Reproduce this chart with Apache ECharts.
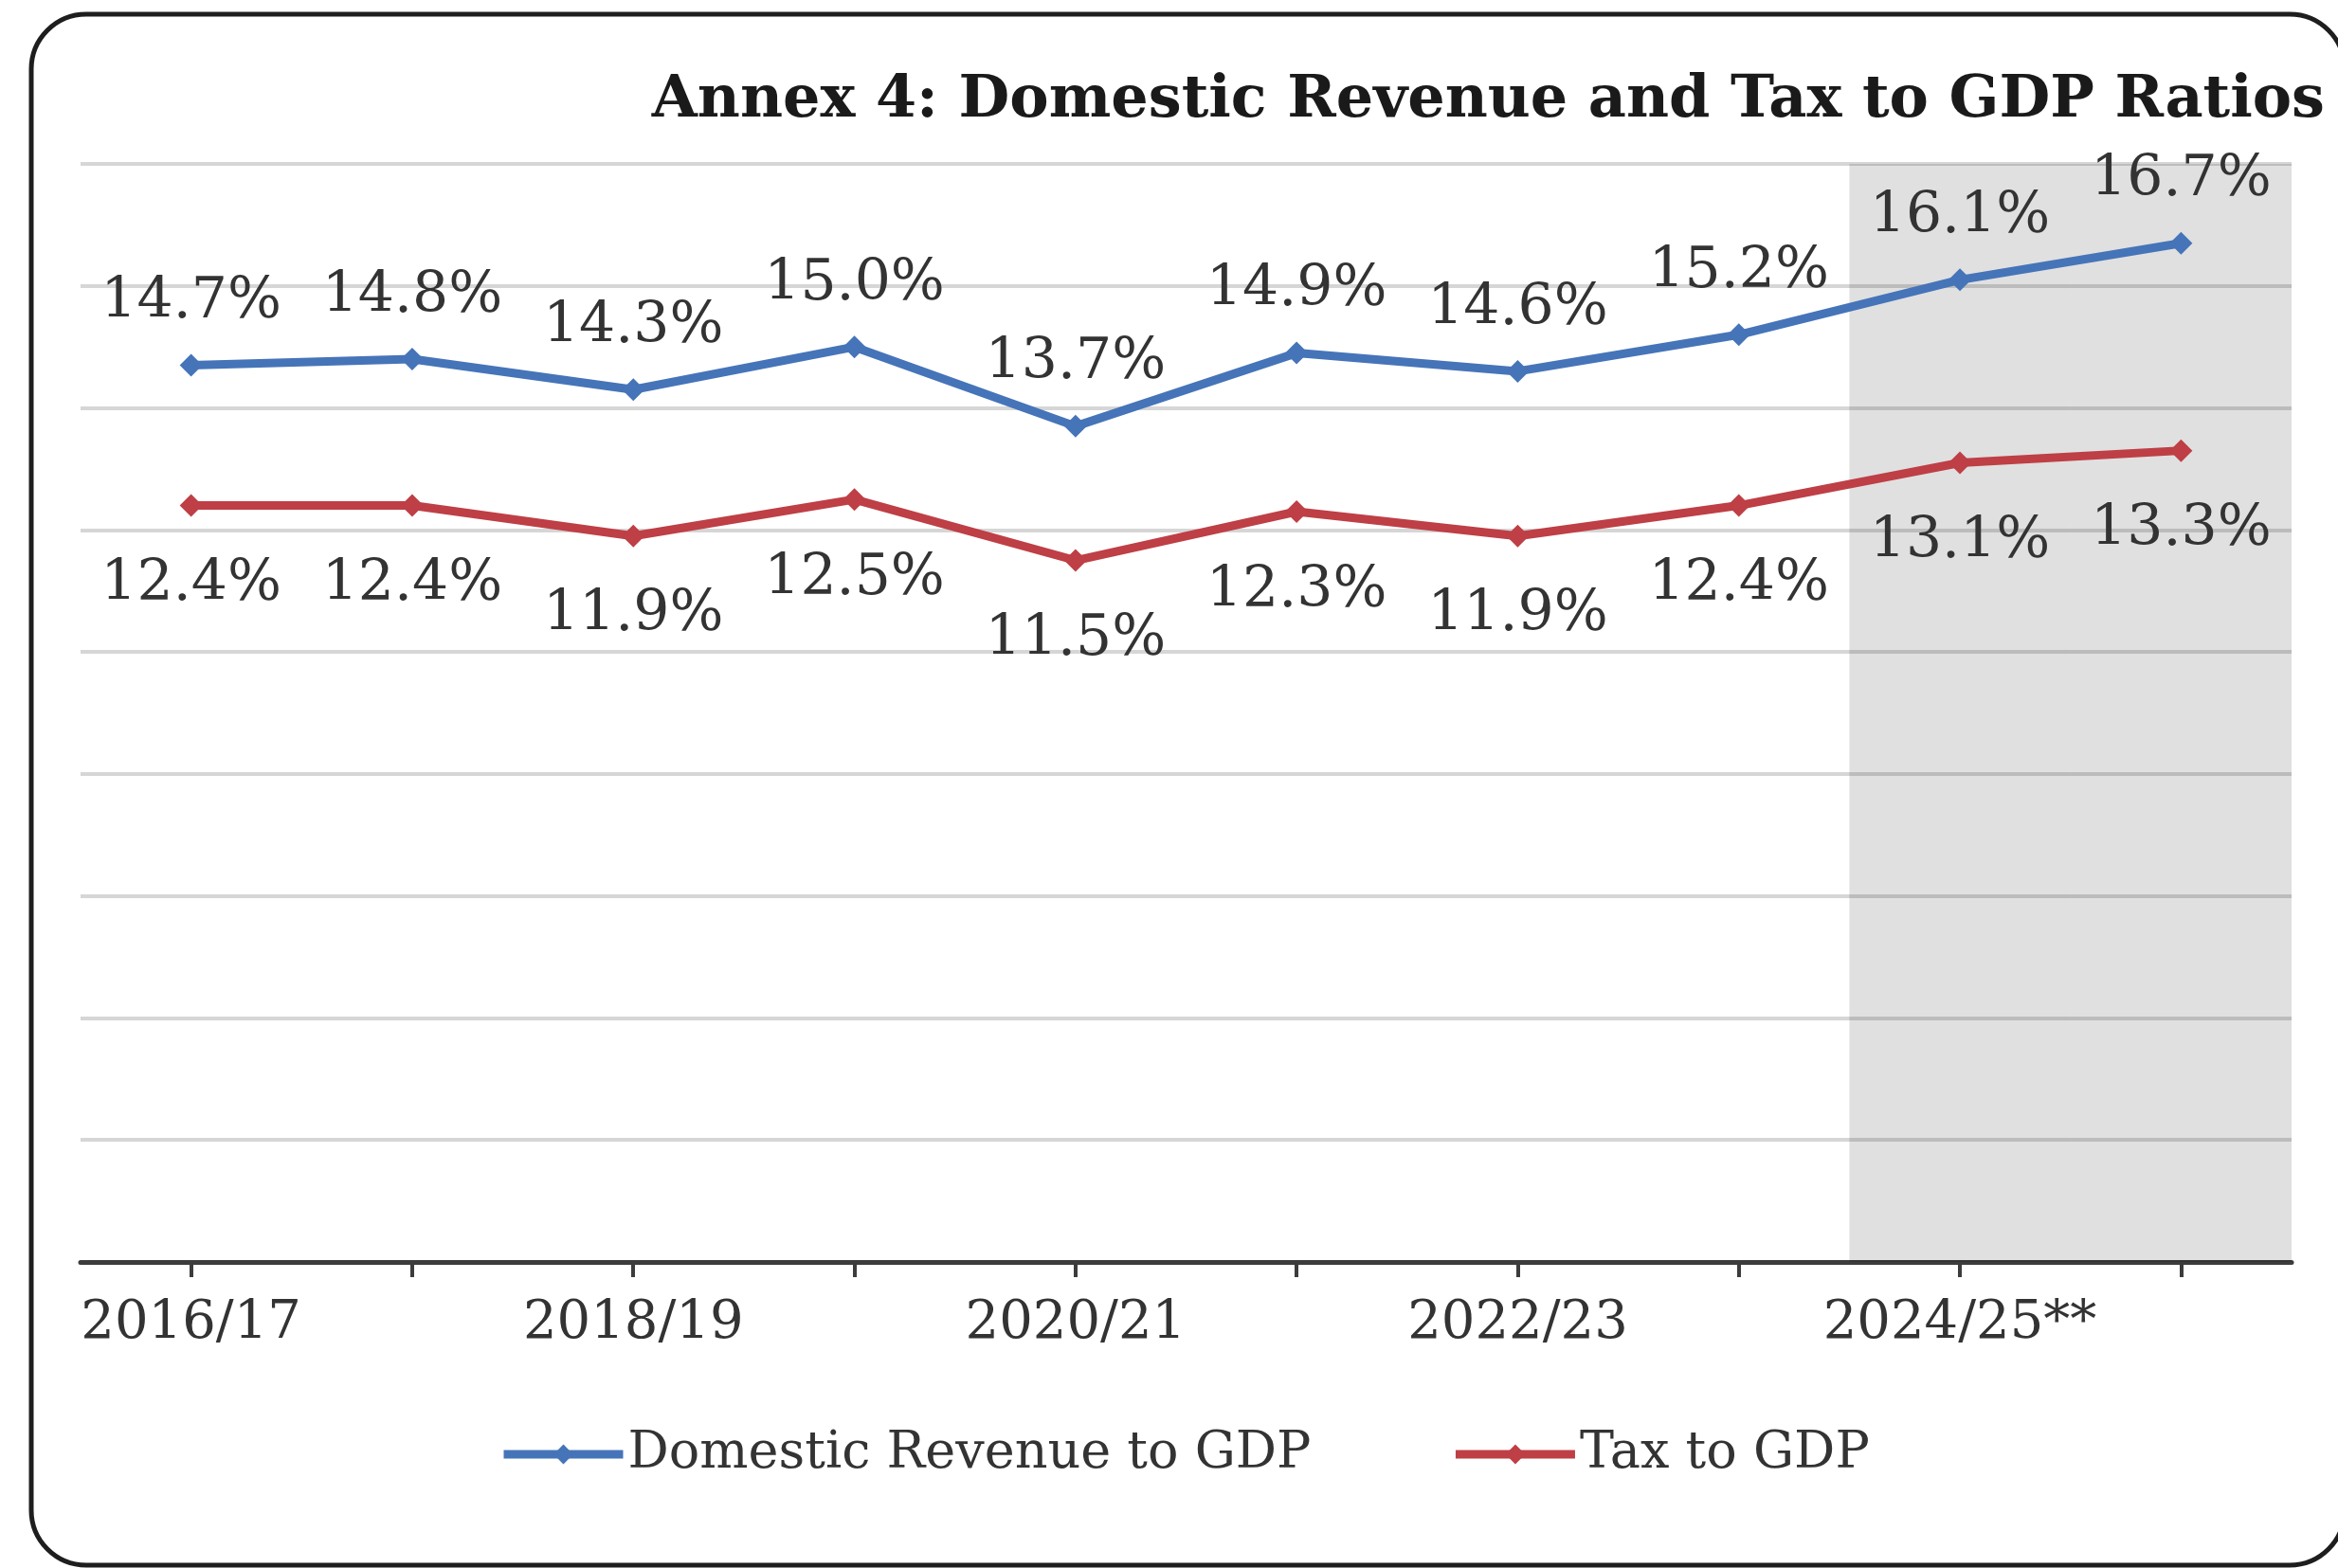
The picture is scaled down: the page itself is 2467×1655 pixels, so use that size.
<!DOCTYPE html>
<html>
<head>
<meta charset="utf-8">
<script src="https://cdn.jsdelivr.net/npm/echarts@6/dist/echarts.min.js"></script>
<style>
  html, body { margin: 0; padding: 0; background: #ffffff; }
  #chart { width: 2467px; height: 1655px; }
</style>
</head>
<body>
<div id="chart"></div>
<script>
// ---- data ----
const categories = ['2016/17', '2017/18', '2018/19', '2019/20', '2020/21', '2021/22', '2022/23', '2023/24', '2024/25**', '2025/26**'];
const revenueToGDP = [14.7, 14.8, 14.3, 15.0, 13.7, 14.9, 14.6, 15.2, 16.1, 16.7];
const taxToGDP = [12.4, 12.4, 11.9, 12.5, 11.5, 12.3, 11.9, 12.4, 13.1, 13.3];
const projected = [false, false, false, false, false, false, false, false, true, true];
const yMin = 0, yMax = 18, yStep = 2;
const titleText = 'Annex 4: Domestic Revenue and Tax to GDP Ratios';
const seriesNames = ['Domestic Revenue to GDP', 'Tax to GDP'];

const FONT = '"DejaVu Serif", serif';
const BLUE = '#4674b8';
const RED = '#be3f45';
const TXT = '#333333';

const chart = echarts.init(document.getElementById('chart'), null, { renderer: 'canvas' });

const pct = p => p.value.toFixed(1) + '%';

chart.setOption({
  animation: false,
  backgroundColor: '#ffffff',
  title: {
    text: titleText,
    right: 14,
    top: 76,
    padding: 0,
    textStyle: { fontFamily: FONT, fontWeight: 'bold', fontSize: 62, color: '#1a1a1a' }
  },
  graphic: [{
    type: 'rect',
    z: 100,
    silent: true,
    shape: { x: 33, y: 15, width: 2441, height: 1637, r: 58 },
    style: { fill: 'none', stroke: '#1e1e1e', lineWidth: 5 }
  }],
  legend: {
    data: seriesNames,
    left: 522,
    top: 1503,
    itemWidth: 126,
    itemHeight: 26,
    itemGap: 148,
    lineStyle: { width: 9 },
    textStyle: { fontFamily: FONT, fontSize: 54, color: TXT }
  },
  grid: { left: 85, right: 49, top: 173, bottom: 323 },
  xAxis: {
    type: 'category',
    data: categories,
    boundaryGap: true,
    axisLine: { show: true, lineStyle: { color: '#3c3c3c', width: 5 } },
    axisTick: { show: true, interval: 0, alignWithLabel: true, length: 16, lineStyle: { color: '#3c3c3c', width: 4 } },
    axisLabel: { interval: 1, margin: 37, fontFamily: FONT, fontSize: 56, color: TXT }
  },
  yAxis: {
    type: 'value',
    min: yMin, max: yMax, interval: yStep,
    axisLine: { show: false },
    axisTick: { show: false },
    axisLabel: { show: false },
    splitLine: { lineStyle: { color: '#d6d6d6', width: 4 } }
  },
  series: [
    {
      name: 'projection',
      type: 'bar',
      silent: true,
      barWidth: '100%',
      z: 1,
      data: projected.map(f => f ? yMax : null),
      itemStyle: { color: 'rgba(0,0,0,0.12)' },
      label: { show: false }
    },
    {
      name: seriesNames[0],
      type: 'line',
      z: 3,
      data: revenueToGDP,
      symbol: 'diamond',
      symbolSize: 24,
      lineStyle: { color: BLUE, width: 9 },
      itemStyle: { color: BLUE },
      label: { show: true, position: 'top', distance: 24, formatter: pct, fontFamily: FONT, fontSize: 60, color: TXT }
    },
    {
      name: seriesNames[1],
      type: 'line',
      z: 3,
      data: taxToGDP,
      symbol: 'diamond',
      symbolSize: 24,
      lineStyle: { color: RED, width: 9 },
      itemStyle: { color: RED },
      label: { show: true, position: 'bottom', distance: 42, formatter: pct, fontFamily: FONT, fontSize: 60, color: TXT }
    }
  ]
});
</script>
</body>
</html>
